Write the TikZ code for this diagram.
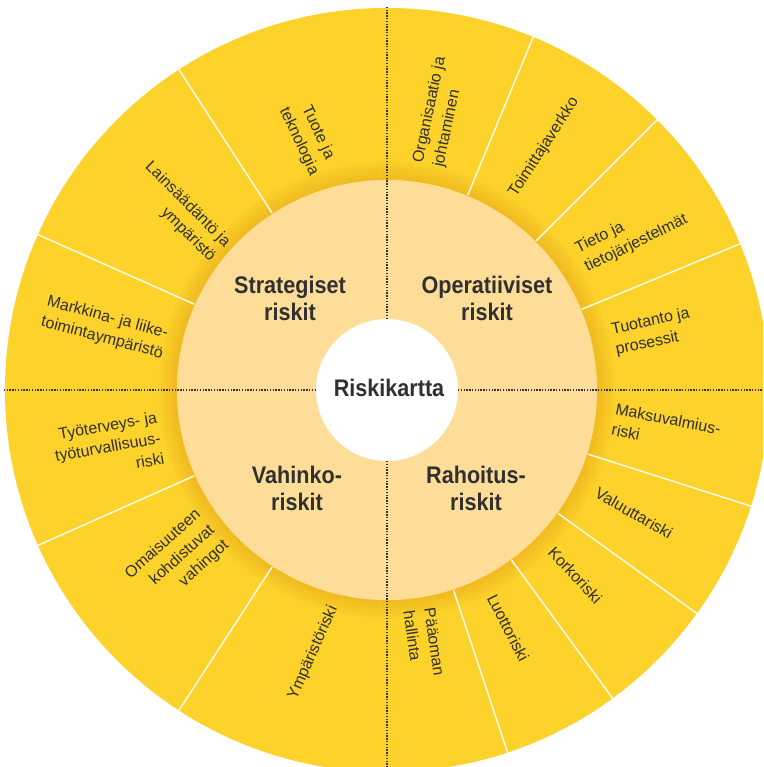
\documentclass[tikz,border=0pt]{standalone}
\usepackage{fontspec}
\setmainfont{Liberation Sans}
\newfontfamily\boldcond[FakeStretch=0.9]{Liberation Sans Bold}
\definecolor{ringyellow}{HTML}{FCD22B}
\definecolor{ringlight}{HTML}{FDDD98}
\definecolor{shadowcol}{HTML}{E8A818}
\definecolor{txt}{HTML}{303030}
\definecolor{dotcol}{HTML}{3A2E28}
\tikzset{
  lbl/.style={text=txt, inner sep=0pt, font={\fontsize{16}{21}\selectfont}},
  big/.style={text=txt, inner sep=0pt, align=center, font={\boldcond\fontsize{24}{27}\selectfont}},
  sepline/.style={draw=white!90!ringyellow, line width=1.5pt},
  dotline/.style={draw=dotcol, line width=1.1pt, dash pattern=on 1.4pt off 1.4pt},
}
\begin{document}
\begin{tikzpicture}[x=1pt,y=1pt]
\clip (-387,390) rectangle (376,-377);
\fill[white] (-387,390) rectangle (376,-377);
\fill[ringyellow] (0,0) circle (382);
% soft shadow around the light ring
\foreach \i in {0,...,11} {
  \pgfmathsetmacro\op{0.5*(1-\i/12)}
  \draw[shadowcol, opacity=\op, line width=1.6pt] (0,0) circle (211+1.5*\i);
}
% separators
\foreach \a in {123,156,204,237,67.5,45,22.5,-17.7,-35.8,-53.8,-71.6}
  \draw[sepline] (\a:211) -- (\a:384);
\fill[ringlight] (0,0) circle (210);
\fill[white] (0,0) circle (71);
% dotted axes
\draw[dotline] (0,71) -- (0,384);
\draw[dotline] (0,-71) -- (0,-390);
\draw[dotline] (-71,0) -- (-384,0);
\draw[dotline] (71,0) -- (390,0);
% centre
\node[big] (center) at (2,2) {Riskikartta};
\node[big] (strat) at (-97,92) {Strategiset\\riskit};
\node[big] (oper) at (100,92) {Operatiiviset\\riskit};
\node[big] (vahinko) at (-90,-98) {Vahinko-\\riskit};
\node[big] (rahoitus) at (89,-98) {Rahoitus-\\riskit};
% outer labels
\node[lbl, rotate=-65, align=center] (tuote) at (107.3:265) {Tuote ja\\teknologia};
\node[lbl, rotate=78, align=left] (org) at (79.2:283) {Organisaatio ja\\johtaminen};
\node[lbl, rotate=57] (toim) at (57.1:289) {Toimittajaverkko};
\node[lbl, rotate=26, align=left] (tieto) at (32.5:290) {Tieto ja\\tietojärjestelmät};
\node[lbl, rotate=12, align=left] (tuotanto) at (12.3:272) {Tuotanto ja\\prosessit};
\node[lbl, rotate=-11, align=left] (maksu) at (-8:282) {Maksuvalmius-\\riski};
\node[lbl, rotate=-30] (valuutta) at (-26.5:276) {Valuuttariski};
\node[lbl, rotate=-47] (korko) at (-44.5:264) {Korkoriski};
\node[lbl, rotate=-63] (luotto) at (-63:267) {Luottoriski};
\node[lbl, rotate=-82, align=left] (paaoma) at (-81.7:256) {Pääoman\\hallinta};
\node[lbl, rotate=66] (ymp) at (254.3:273) {Ympäristöriski};
\node[lbl, rotate=42, align=right] (omai) at (219:270) {Omaisuuteen\\kohdistuvat\\vahingot};
\node[lbl, rotate=10, align=right] (tyo) at (191.5:285) {Työterveys- ja\\työturvallisuus-\\riski};
\node[lbl, rotate=-15, align=center] (markkina) at (167.6:289) {Markkina- ja liike-\\toimintaympäristö};
\node[lbl, rotate=-45, align=right] (lain) at (139.3:273) {Lainsäädäntö ja\\ympäristö};
\end{tikzpicture}
\end{document}
